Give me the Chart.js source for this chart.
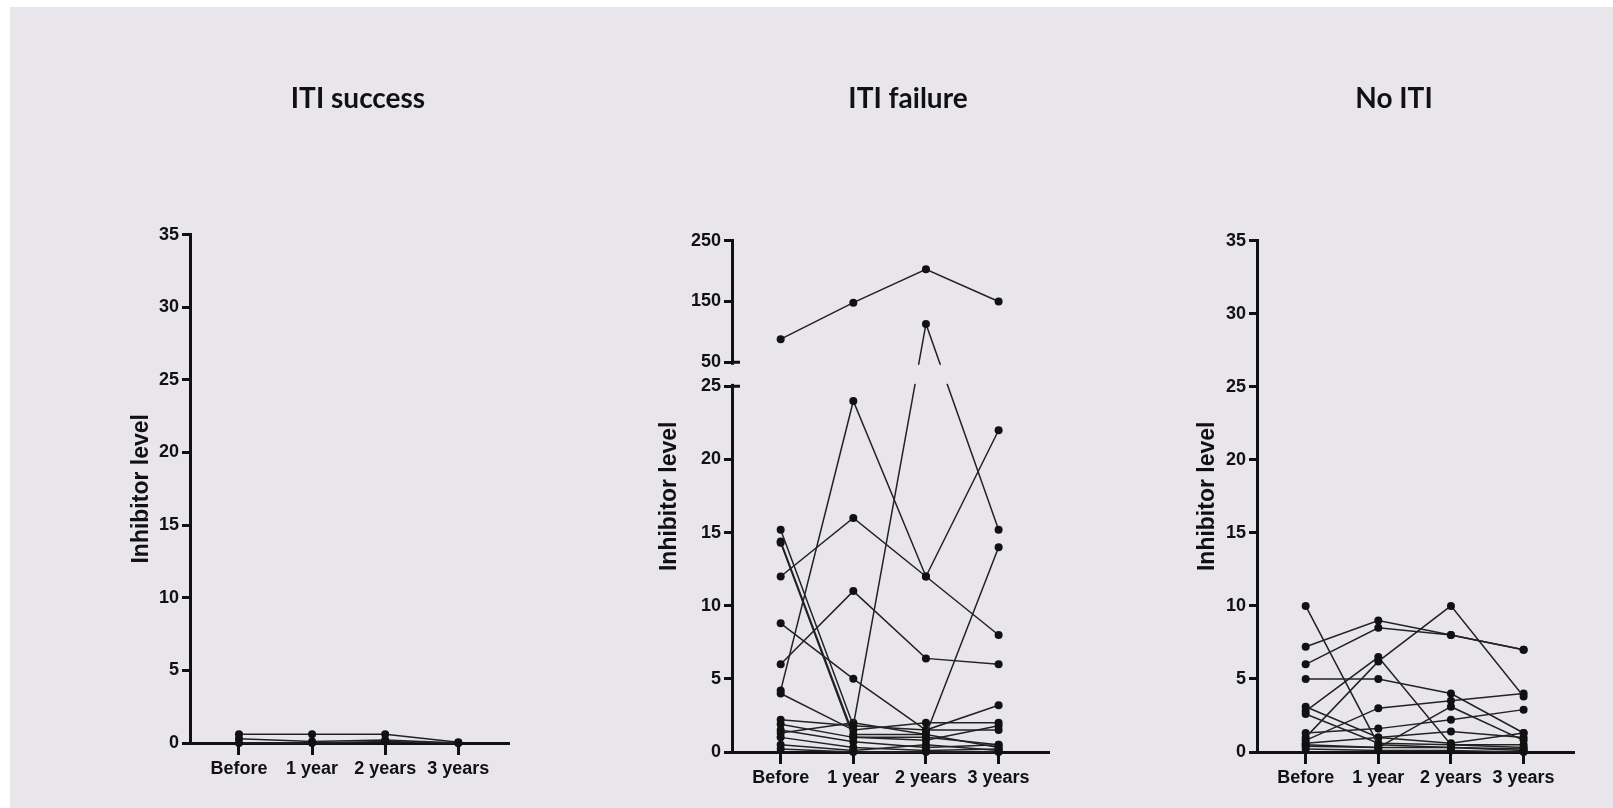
<!DOCTYPE html>
<html>
<head>
<meta charset="utf-8">
<script src="https://cdn.jsdelivr.net/npm/chart.js@4.4.1/dist/chart.umd.min.js"></script>
<style>
  body { margin: 0; background: #fff; width: 1613px; height: 808px; overflow: hidden; position: relative; }
  .bg { position: absolute; left: 10px; top: 7px; right: 0; bottom: 0; background: #e8e6ea; }
  .panel { position: absolute; }
</style>
</head>
<body>
<div class="bg"></div>
<div class="panel" style="left:110px; top:50px; width:496px; height:743px;"><canvas id="successChart"></canvas></div>
<div class="panel" style="left:652px; top:50px; width:512px; height:752px;"><canvas id="failureChart"></canvas></div>
<div class="panel" style="left:1177px; top:50px; width:434px; height:752px;"><canvas id="noItiChart"></canvas></div>
<script>
// Data
const timeLabels = ["Before", "1 year", "2 years", "3 years"];
const linearTicks = [0, 5, 10, 15, 20, 25, 30, 35];
const failureTicks = [0, 5, 10, 15, 20, 25, 50, 150, 250];

// one row per patient: Before, 1 year, 2 years, 3 years
const successLevels = [
  [0.6, 0.6, 0.6, 0.05],
  [0.3, 0.1, 0.2, 0],
  [0, 0, 0.1, 0],
];

const failureLevels = [
  [88, 148, 203, 150],
  [15.2, 1.8, 113, 15.2],
  [14.4, 1.2, 1.2, 14],
  [14.3, 1.0, 0.8, 1.8],
  [4.2, 24, 12, 22],
  [12, 16, 12, 8],
  [6, 11, 6.4, 6],
  [8.8, 5, 1.5, 3.2],
  [4.0, 1.5, 2.0, 2.0],
  [2.2, 1.8, 1.5, 1.5],
  [1.9, 1.0, 1.0, 0.5],
  [1.5, 0.7, 0.3, 0.5],
  [1.3, 2.0, 1.2, 0.3],
  [1.0, 0.3, 0.1, 0.2],
  [0.5, 0.1, 0.5, 0.1],
  [0.2, 0, 0, 0],
];

const noItiLevels = [
  [10, 0.5, 0.3, 0.2],
  [7.2, 9.0, 8.0, 7.0],
  [6.0, 8.5, 8.0, 7.0],
  [5.0, 5.0, 4.0, 1.3],
  [1.0, 6.2, 10, 3.8],
  [2.8, 6.5, 0.5, 0.3],
  [3.1, 1.0, 1.4, 1.0],
  [0.8, 3.0, 3.5, 4.0],
  [1.3, 1.6, 2.2, 2.9],
  [0.5, 0.3, 3.1, 0.8],
  [2.6, 0.6, 0.5, 0.5],
  [0.4, 0.3, 0.3, 0.1],
  [0.2, 0.1, 0.1, 0],
  [0.6, 1.0, 0.6, 1.3],
];

const BG = "#e8e6ea";
const INK = "#111";
const LINE = "#222";
const titleFont = 'Lato, "Liberation Sans", Arial, sans-serif';
const plainFont = '"Liberation Sans", Arial, sans-serif';
const Y_W = 80;
const X_H = 50;

// Broken y axis (ITI failure): 0-25 in the lower part, 50-250 on top
const LOW_MAX = 25, HIGH_MIN = 50, TOP = 250;
const LOW_SHARE = 0.715, GAP_SHARE = 0.047;
const HIGH_SHARE = 1 - LOW_SHARE - GAP_SHARE;

function brokenDecimal(v) {
  if (v <= LOW_MAX) return (v / LOW_MAX) * LOW_SHARE;
  if (v <= HIGH_MIN) return LOW_SHARE + ((v - LOW_MAX) / (HIGH_MIN - LOW_MAX)) * GAP_SHARE;
  return LOW_SHARE + GAP_SHARE + ((v - HIGH_MIN) / (TOP - HIGH_MIN)) * HIGH_SHARE;
}
function brokenValue(d) {
  if (d <= LOW_SHARE) return (d / LOW_SHARE) * LOW_MAX;
  if (d <= LOW_SHARE + GAP_SHARE) return LOW_MAX + ((d - LOW_SHARE) / GAP_SHARE) * (HIGH_MIN - LOW_MAX);
  return HIGH_MIN + ((d - LOW_SHARE - GAP_SHARE) / HIGH_SHARE) * (TOP - HIGH_MIN);
}

class BrokenScale extends Chart.LinearScale {
  getPixelForValue(value) {
    if (value === null || value === undefined || isNaN(value)) return NaN;
    return this.getPixelForDecimal(brokenDecimal(value));
  }
  getValueForPixel(pixel) {
    return brokenValue(this.getDecimalForPixel(pixel));
  }
}
BrokenScale.id = "broken";
BrokenScale.defaults = Chart.LinearScale.defaults;
Chart.register(BrokenScale);

// hides the lines in the gap and draws the little break marks
const breakMask = {
  id: "breakMask",
  afterDatasetsDraw(chart) {
    const y = chart.scales.y;
    const area = chart.chartArea;
    const ctx = chart.ctx;
    const top = y.getPixelForValue(HIGH_MIN);
    const bottom = y.getPixelForValue(LOW_MAX);
    ctx.save();
    ctx.fillStyle = BG;
    ctx.fillRect(area.left - 3, top + 2.5, area.right - area.left + 6, bottom - top - 5);
    ctx.strokeStyle = INK;
    ctx.lineWidth = 3;
    ctx.beginPath();
    ctx.moveTo(area.left, top);
    ctx.lineTo(area.left + 8, top);
    ctx.moveTo(area.left, bottom);
    ctx.lineTo(area.left + 8, bottom);
    ctx.stroke();
    ctx.restore();
  },
};

function makePanel(canvasId, title, levels, yOpts, layoutOpts, plugins) {
  const datasets = levels.map((row) => ({
    data: row.map((v, i) => ({ x: i, y: v })),
    borderColor: LINE,
    borderWidth: 1.5,
    pointRadius: 4,
    pointBackgroundColor: INK,
    pointBorderWidth: 0,
    clip: false,
  }));

  return new Chart(document.getElementById(canvasId), {
    type: "line",
    data: { datasets },
    plugins: plugins || [],
    options: {
      responsive: true,
      maintainAspectRatio: false,
      animation: false,
      layout: { padding: 0 },
      plugins: {
        legend: { display: false },
        tooltip: { enabled: false },
        title: {
          display: true,
          text: title,
          color: INK,
          font: { family: titleFont, size: 28, weight: "bold" },
          padding: { top: 32, bottom: layoutOpts.titleGap },
        },
      },
      scales: {
        x: {
          type: "linear",
          min: -0.67,
          max: 3.68,
          afterBuildTicks: (s) => {
            s.ticks = timeLabels.map((_, i) => ({ value: i }));
          },
          afterFit: (s) => {
            s.height = X_H;
          },
          ticks: {
            callback: (v) => timeLabels[v],
            color: INK,
            font: { family: plainFont, size: 18, weight: "bold" },
            padding: 3,
            autoSkip: false,
            maxRotation: 0,
          },
          grid: { drawOnChartArea: false, tickLength: 12, lineWidth: 3, color: INK },
          border: { color: INK, width: 3 },
        },
        y: Object.assign(
          {
            min: 0,
            afterFit: (s) => {
              s.width = Y_W;
            },
            ticks: {
              color: INK,
              font: { family: plainFont, size: 18, weight: "bold" },
              padding: 3,
              autoSkip: false,
            },
            grid: { drawOnChartArea: false, tickLength: 8, lineWidth: 3, color: INK },
            border: { color: INK, width: 3 },
            title: {
              display: true,
              text: "Inhibitor level",
              color: INK,
              font: { family: plainFont, size: 23, weight: "bold" },
              padding: { top: layoutOpts.yTitlePad, bottom: 0 },
            },
          },
          yOpts
        ),
        // empty right-hand spacer so the title centres over the whole canvas
        spacer: {
          type: "linear",
          position: "right",
          grid: { display: false },
          border: { display: false },
          ticks: { display: false },
          afterFit: (s) => {
            s.width = layoutOpts.spacer;
          },
        },
      },
    },
  });
}

const linearY = {
  type: "linear",
  max: 35,
  afterBuildTicks: (s) => {
    s.ticks = linearTicks.map((v) => ({ value: v }));
  },
};

makePanel("successChart", "ITI success", successLevels, linearY,
  { spacer: 98, titleGap: 119, yTitlePad: 18 });

makePanel("failureChart", "ITI failure", failureLevels, {
  type: "broken",
  max: TOP,
  afterBuildTicks: (s) => {
    s.ticks = failureTicks.map((v) => ({ value: v }));
  },
}, { spacer: 116, titleGap: 125, yTitlePad: 4 }, [breakMask]);

makePanel("noItiChart", "No ITI", noItiLevels, linearY,
  { spacer: 38, titleGap: 125, yTitlePad: 17 });
</script>
</body>
</html>
